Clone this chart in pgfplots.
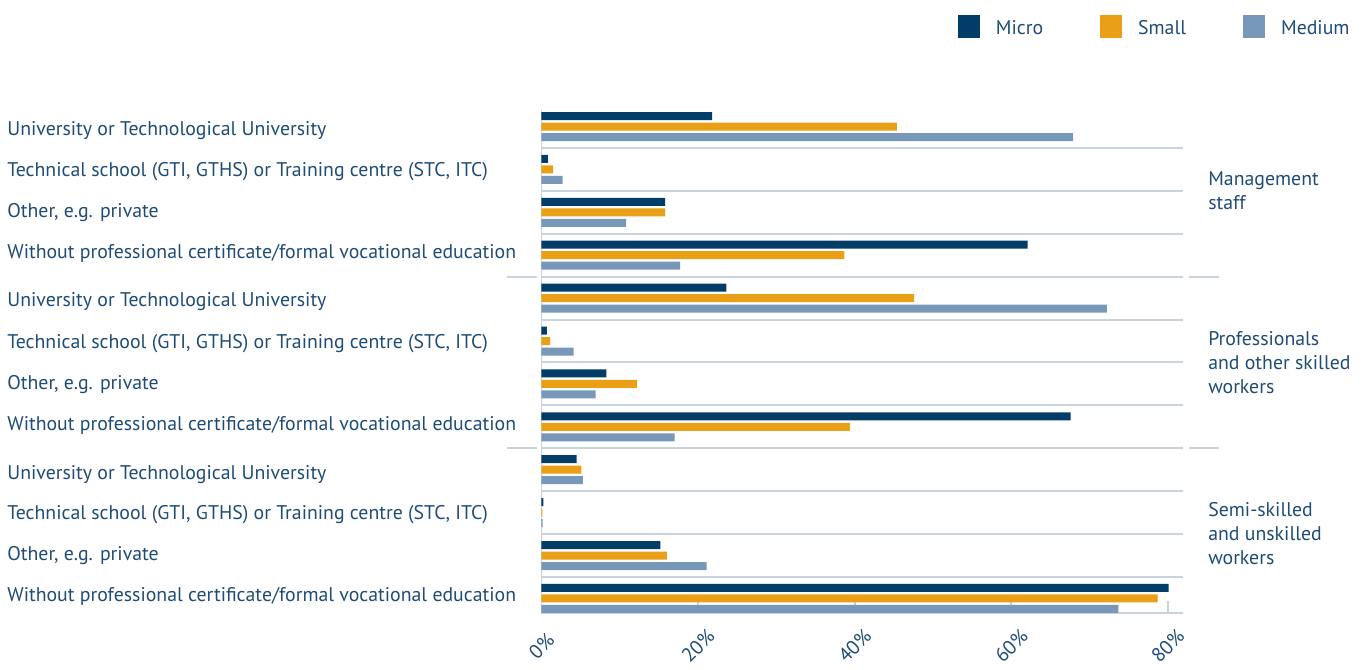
\documentclass[border=0pt]{standalone}
\usepackage{fontspec}
\setmainfont{PT Sans}
\usepackage{pgfplots}
\pgfplotsset{compat=1.18}
\definecolor{micro}{HTML}{023D67}
\definecolor{small}{HTML}{E9A016}
\definecolor{medium}{HTML}{7898BA}
\definecolor{sepc}{HTML}{C9D3DD}
\definecolor{txt}{HTML}{1E4C76}
\newcommand\lf{\fontsize{9.9}{12}\selectfont}
\begin{document}
\begin{tikzpicture}
\path[use as bounding box] (-270.75pt,-28pt) rectangle (411.25pt,306.5pt);
\begin{axis}[
  at={(0,0)}, anchor=south west,
  scale only axis, width=321pt, height=251.5pt,
  xmin=0, xmax=82, ymin=-0.34, ymax=11.385,
  xbar, bar width=4pt,
  axis lines=left, axis line style={-, draw=sepc, line width=0.9pt},
  xtick={0,20,40,60,80}, xticklabels={0\%,20\%,40\%,60\%,80\%},
  tick align=inside, major tick length=6pt,
  xtick style={draw=sepc, line width=0.9pt},
  ytick={-0.061,0.895,1.828,2.783,3.925,4.881,5.837,6.793,7.935,8.890,9.846,10.802},
  yticklabels={
    Without professional certificate/formal vocational education,
    {Other, e.g. private},
    {Technical school (GTI, GTHS) or Training centre (STC, ITC)},
    University or Technological University,
    Without professional certificate/formal vocational education,
    {Other, e.g. private},
    {Technical school (GTI, GTHS) or Training centre (STC, ITC)},
    University or Technological University,
    Without professional certificate/formal vocational education,
    {Other, e.g. private},
    {Technical school (GTI, GTHS) or Training centre (STC, ITC)},
    University or Technological University},
  ytick style={draw=none},
  minor ytick={0.5,1.5,...,10.5}, yminorgrids, minor tick length=0pt,
  minor grid style={draw=sepc, line width=1pt},
  ticklabel style={font=\lf, text=txt},
  yticklabel style={anchor=base west, inner sep=0pt, xshift=-267.25pt},
  xticklabel style={rotate=45, anchor=center, inner sep=0pt},
  xticklabel shift=16.5pt,
  clip=false,
  legend columns=3,
  legend style={at={(1.2593,1.1898)}, anchor=north east, draw=none, fill=none,
    inner sep=0pt, font=\lf, text=txt, nodes={inner sep=0pt, yshift=3.5pt},
    /tikz/every odd column/.append style={column sep=8pt},
    /tikz/every even column/.append style={column sep=28.5pt}},
  legend image code/.code={\fill[#1, draw=none] (0pt,-1pt) rectangle (11pt,10.5pt);},
]
\addplot[fill=micro, draw=none, bar shift=5.25pt] coordinates {
  (21.8,11) (0.8,10) (15.8,9) (62.1,8) (23.6,7) (0.7,6) (8.3,5) (67.6,4) (4.5,3) (0.25,2) (15.2,1) (80.1,0)};
\addplot[fill=small, draw=none, bar shift=0pt] coordinates {
  (45.4,11) (1.5,10) (15.8,9) (38.7,8) (47.6,7) (1.1,6) (12.2,5) (39.4,4) (5.1,3) (0.1,2) (16.0,1) (78.7,0)};
\addplot[fill=medium, draw=none, bar shift=-5.25pt] coordinates {
  (67.9,11) (2.7,10) (10.8,9) (17.7,8) (72.2,7) (4.1,6) (6.9,5) (17.0,4) (5.3,3) (0.15,2) (21.1,1) (73.7,0)};
\legend{Micro, Small, Medium}
\draw[sepc, line width=1pt] (axis cs:-4.4,7.5) -- (axis cs:-0.57,7.5);
\draw[sepc, line width=1pt] (axis cs:-4.4,3.5) -- (axis cs:-0.57,3.5);
\draw[sepc, line width=1pt] (axis cs:82.7,7.5) -- (axis cs:86.5,7.5);
\draw[sepc, line width=1pt] (axis cs:82.7,3.5) -- (axis cs:86.5,3.5);
\node[anchor=west, align=left, font=\lf, text=txt, inner sep=0pt] at (axis cs:85.12,9.5) {Management\\staff};
\node[anchor=west, align=left, font=\lf, text=txt, inner sep=0pt] at (axis cs:85.12,5.5) {Professionals\\and other skilled\\workers};
\node[anchor=west, align=left, font=\lf, text=txt, inner sep=0pt] at (axis cs:85.12,1.5) {Semi-skilled\\and unskilled\\workers};
\end{axis}
\end{tikzpicture}
\end{document}
